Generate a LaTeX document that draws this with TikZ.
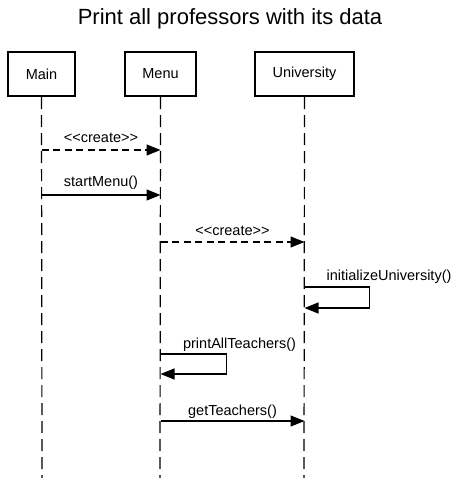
\documentclass[tikz,border=0pt]{standalone}
\usepackage{fontspec}
\setmainfont{Liberation Sans}[Ligatures=TeXOff]
\usetikzlibrary{arrows.meta}

\begin{document}
\begin{tikzpicture}[x=1pt,y=-1pt,
  obj/.style={draw,line width=2.4pt,minimum height=44pt,font=\fontsize{14.5}{17}\selectfont},
  life/.style={line width=1.2pt,dash pattern=on 12pt off 6pt},
  msg/.style={line width=1.3pt,-{Triangle[length=14pt,width=11pt]}},
  create/.style={msg,dash pattern=on 7pt off 4.5pt},
  lbl/.style={anchor=base,inner sep=0pt,font=\fontsize{14.5}{17}\selectfont}]
  \useasboundingbox (0,0) rectangle (460,478);
  \node[anchor=base,font=\fontsize{22}{26}\selectfont] (title) at (230,25) {Print all professors with its data};
  % objects and lifelines
  \node[obj,minimum width=67pt] (main) at (41.5,74) {Main};
  \node[obj,minimum width=71pt] (menu) at (160.5,74) {Menu};
  \node[obj,minimum width=99pt] (univ) at (304.5,74) {University};
  \coordinate (mainEnd) at (42,478);
  \coordinate (menuEnd) at (160,478);
  \coordinate (univEnd) at (304,478);
  \draw[life] (main.south) -- (mainEnd);
  \draw[life] (menu.south) -- (menuEnd);
  \draw[life] (univ.south) -- (univEnd);
  % messages
  \draw[create] (main |- 0,150) -- node[lbl,yshift=7.5pt] {<<create>>} (menu |- 0,150);
  \draw[msg] (main |- 0,195) -- node[lbl,yshift=9pt] {startMenu()} (menu |- 0,195);
  \draw[create] (menu |- 0,242) -- node[lbl,yshift=7pt] {<<create>>} (univ |- 0,242);
  \draw[msg] (univ |- 0,287) -- ++(65,0) -- ++(0,21) -- (univ |- 0,308);
  \node[lbl] (initLbl) at (389,280) {initializeUniversity()};
  \draw[msg] (menu |- 0,354) -- ++(66,0) -- ++(0,20) -- (menu |- 0,374);
  \node[lbl] (printLbl) at (239.5,348) {printAllTeachers()};
  \draw[msg] (menu |- 0,421) -- node[lbl,yshift=6pt] {getTeachers()} (univ |- 0,421);
\end{tikzpicture}
\end{document}
